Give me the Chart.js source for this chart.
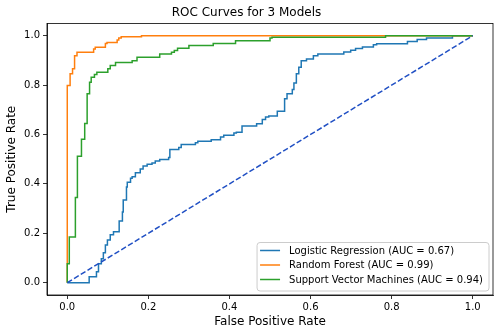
<!DOCTYPE html>
<html>
<head>
<meta charset="UTF-8">
<title>ROC Curves</title>
<style>
body {
	margin: 0;
	background: #fff;
}
</style>
<script src="https://cdn.jsdelivr.net/npm/chart.js"></script>
</head>
<body>
	<canvas id="roc-chart" width="500" height="336"></canvas>

	<script>
		// ROC points (fpr, tpr) at the top of each step
		const modelNames = ['Logistic Regression', 'Random Forest', 'Support Vector Machines'];
		const aucValues = [0.67, 0.99, 0.94];

		const lrFpr = [0, 0.054, 0.072, 0.077, 0.084, 0.089, 0.094, 0.099, 0.106, 0.114,
			0.128, 0.136, 0.138, 0.146, 0.148, 0.156, 0.160, 0.168, 0.180, 0.187,
			0.197, 0.209, 0.217, 0.228, 0.250, 0.253, 0.275, 0.281, 0.316, 0.322,
			0.355, 0.378, 0.386, 0.411, 0.417, 0.431, 0.467, 0.481, 0.489, 0.497,
			0.518, 0.536, 0.542, 0.555, 0.559, 0.565, 0.571, 0.577, 0.590, 0.607,
			0.618, 0.682, 0.699, 0.711, 0.728, 0.755, 0.763, 0.839, 0.863, 0.886,
			0.950, 1.0];
		const lrTpr = [0, 0.024, 0.044, 0.077, 0.097, 0.121, 0.153, 0.173, 0.194, 0.206,
			0.250, 0.286, 0.335, 0.387, 0.407, 0.423, 0.429, 0.445, 0.460, 0.472,
			0.480, 0.485, 0.493, 0.499, 0.507, 0.539, 0.547, 0.560, 0.567, 0.573,
			0.579, 0.590, 0.597, 0.606, 0.609, 0.634, 0.644, 0.661, 0.671, 0.675,
			0.694, 0.745, 0.765, 0.782, 0.809, 0.846, 0.872, 0.899, 0.906, 0.919,
			0.926, 0.934, 0.941, 0.948, 0.954, 0.964, 0.968, 0.977, 0.985, 0.991,
			1.0, 1.0];

		const rfFpr = [0, 0, 0.007, 0.013, 0.018, 0.024, 0.065, 0.069, 0.094, 0.098, 0.123, 0.127, 0.133, 0.183, 1.0];
		const rfTpr = [0, 0.798, 0.846, 0.866, 0.919, 0.933, 0.946, 0.953, 0.969, 0.973, 0.983, 0.991, 0.996, 1.0, 1.0];

		const svmFpr = [0, 0, 0.005, 0.020, 0.025, 0.035, 0.043, 0.049, 0.055, 0.059, 0.067, 0.073, 0.100, 0.106,
			0.119, 0.160, 0.172, 0.228, 0.257, 0.264, 0.272, 0.300, 0.360, 0.415, 0.500, 0.505, 0.785, 1.0];
		const svmTpr = [0, 0.077, 0.185, 0.345, 0.512, 0.581, 0.645, 0.765, 0.812, 0.832, 0.843, 0.852, 0.866, 0.879,
			0.892, 0.899, 0.913, 0.926, 0.933, 0.940, 0.949, 0.960, 0.969, 0.980, 0.991, 0.994, 1.0, 1.0];

		const tickVals = [0, 0.2, 0.4, 0.6, 0.8, 1.0];
		const colors = ['#1f77b4', '#ff7f0e', '#2ca02c'];

		function toPoints(xs, ys) {
			return xs.map((x, i) => ({ x: x, y: ys[i] }));
		}

		const curves = [[lrFpr, lrTpr], [rfFpr, rfTpr], [svmFpr, svmTpr]];
		const datasets = curves.map((c, i) => ({
			label: modelNames[i] + ' (AUC = ' + aucValues[i].toFixed(2) + ')',
			data: toPoints(c[0], c[1]),
			showLine: true,
			stepped: true,
			borderColor: colors[i],
			backgroundColor: colors[i],
			borderWidth: 1.5,
			pointRadius: 0,
			order: 4 - i
		}));
		// chance line
		datasets.push({
			label: 'chance',
			data: [{ x: 0, y: 0 }, { x: 1, y: 1 }],
			showLine: true,
			borderColor: '#2150c4',
			borderWidth: 1.5,
			borderDash: [5.5, 2.4],
			pointRadius: 0,
			order: 0
		});

		// frame + legend box in the lower right corner
		const framePlugin = {
			id: 'frame',
			afterDatasetsDraw(chart) {
				const { ctx, chartArea: a } = chart;
				ctx.save();
				ctx.strokeStyle = '#000';
				ctx.lineWidth = 0.8;
				ctx.strokeRect(a.left, a.top, a.right - a.left, a.bottom - a.top);

				const items = chart.data.datasets.slice(0, 3);
				ctx.font = '10px "DejaVu Sans"';
				let tw = 0;
				items.forEach(d => { tw = Math.max(tw, ctx.measureText(d.label).width); });
				const rowH = 14.5;
				const w = tw + 38, h = items.length * rowH + 5;
				const x0 = a.right - 4 - w, y0 = a.bottom - 4 - h;
				ctx.beginPath();
				ctx.roundRect(x0, y0, w, h, 3);
				ctx.fillStyle = 'rgba(255,255,255,0.8)';
				ctx.fill();
				ctx.strokeStyle = '#cccccc';
				ctx.lineWidth = 1;
				ctx.stroke();
				ctx.textBaseline = 'middle';
				items.forEach((d, i) => {
					const y = y0 + 8 + i * rowH;
					ctx.beginPath();
					ctx.moveTo(x0 + 3, y);
					ctx.lineTo(x0 + 23, y);
					ctx.strokeStyle = d.borderColor;
					ctx.lineWidth = 1.5;
					ctx.stroke();
					ctx.fillStyle = '#000';
					ctx.fillText(d.label, x0 + 32, y + 0.5);
				});
				ctx.restore();
			}
		};

		Chart.defaults.font.family = '"DejaVu Sans"';
		Chart.defaults.color = '#000';

		function setTicks(scale) {
			scale.ticks = tickVals.map(v => ({ value: v }));
		}

		new Chart(document.getElementById('roc-chart'), {
			type: 'scatter',
			data: { datasets: datasets },
			options: {
				responsive: false,
				animation: false,
				layout: { padding: { right: 7 } },
				plugins: {
					legend: { display: false },
					tooltip: { enabled: false },
					title: {
						display: true,
						text: 'ROC Curves for 3 Models',
						font: { size: 12, weight: 'normal' },
						padding: { top: 6, bottom: 3 }
					}
				},
				scales: {
					x: {
						type: 'linear',
						min: -0.05,
						max: 1.05,
						afterBuildTicks: setTicks,
						afterFit: s => { s.height = 41; },
						grid: { drawOnChartArea: false, tickLength: 4, color: '#000', lineWidth: 0.8 },
						border: { color: '#000', width: 0.8 },
						ticks: { padding: 2, maxRotation: 0, font: { size: 10 }, callback: v => v.toFixed(1) },
						title: { display: true, text: 'False Positive Rate', font: { size: 12 }, padding: { top: 0, bottom: 7 } }
					},
					y: {
						type: 'linear',
						min: -0.05,
						max: 1.05,
						afterBuildTicks: setTicks,
						afterFit: s => { s.width = 47; },
						grid: { drawOnChartArea: false, tickLength: 4, color: '#000', lineWidth: 0.8 },
						border: { color: '#000', width: 0.8 },
						ticks: { padding: 3, font: { size: 10 }, callback: v => v.toFixed(1) },
						title: { display: true, text: 'True Positive Rate', font: { size: 12 }, padding: { top: 5, bottom: 0 } }
					}
				}
			},
			plugins: [framePlugin]
		});
	</script>
</body>
</html>
